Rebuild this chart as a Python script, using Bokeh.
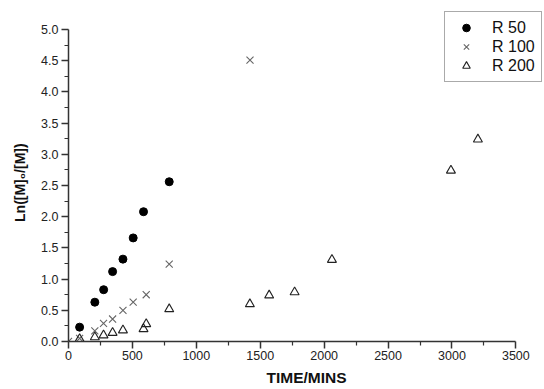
from bokeh.plotting import figure
from bokeh.models import Range1d, FixedTicker, PrintfTickFormatter, Legend, LegendItem
from bokeh.embed import file_html
from bokeh.resources import INLINE

# data
r50_time = [87, 206, 275, 345, 426, 506, 587, 788]
r50_ln = [0.23, 0.63, 0.83, 1.12, 1.32, 1.66, 2.08, 2.56]

r100_time = [0, 87, 206, 274, 345, 426, 506, 608, 788, 1420]
r100_ln = [0.0, 0.05, 0.17, 0.29, 0.36, 0.50, 0.63, 0.75, 1.24, 4.51]

r200_time = [87, 206, 274, 345, 426, 587, 608, 788, 1419, 1570, 1769, 2061, 2992, 3203]
r200_ln = [0.04, 0.07, 0.10, 0.14, 0.18, 0.20, 0.28, 0.52, 0.60, 0.74, 0.79, 1.31, 2.74, 3.24]

x_ticks = [0, 500, 1000, 1500, 2000, 2500, 3000, 3500]
x_minor = [250, 750, 1250, 1750, 2250, 2750, 3250]
y_ticks = [0.0, 0.5, 1.0, 1.5, 2.0, 2.5, 3.0, 3.5, 4.0, 4.5, 5.0]
y_minor = [0.25, 0.75, 1.25, 1.75, 2.25, 2.75, 3.25, 3.75, 4.25, 4.75]

series_names = ["R 50", "R 100", "R 200"]

FONT = "Liberation Sans"

# frame extends to the top/right canvas edge so the legend can sit above/right of the axes;
# the axis lines are limited to the data extent with bounds
p = figure(width=544, height=389, output_backend="svg", toolbar_location=None,
           x_range=Range1d(0, 3724), y_range=Range1d(0, 5.465),
           min_border_left=68, min_border_right=0, min_border_top=0, min_border_bottom=48)
p.outline_line_color = None
p.grid.visible = False
p.background_fill_color = "white"
p.border_fill_color = "white"

for ax in (p.xaxis[0], p.yaxis[0]):
    ax.axis_line_color = "#333333"
    ax.axis_line_width = 1.5
    ax.major_tick_line_color = "#333333"
    ax.minor_tick_line_color = "#333333"
    ax.major_tick_line_width = 1.5
    ax.minor_tick_line_width = 1.2
    ax.major_tick_in = 0
    ax.major_tick_out = 7
    ax.minor_tick_in = 0
    ax.minor_tick_out = 4
    ax.major_label_text_font = FONT
    ax.major_label_text_font_size = "12.5px"
    ax.major_label_text_color = "#222222"
    ax.axis_label_text_font = FONT
    ax.axis_label_text_font_style = "bold"
    ax.axis_label_text_color = "#111111"

p.xaxis[0].bounds = (0, 3500)
p.yaxis[0].bounds = (0, 5)
p.xaxis[0].ticker = FixedTicker(ticks=x_ticks, minor_ticks=x_minor)
p.yaxis[0].ticker = FixedTicker(ticks=y_ticks, minor_ticks=y_minor)
p.yaxis[0].formatter = PrintfTickFormatter(format="%.1f")
p.xaxis[0].major_label_standoff = 2
p.yaxis[0].major_label_standoff = 3

# trailing no-break spaces shift the centred label down to where the reference has it
p.yaxis[0].axis_label = "Ln([M]\u2080/[M])" + "\u00a0" * 6
p.yaxis[0].axis_label_text_font_size = "14px"
p.yaxis[0].axis_label_standoff = 10

p.xaxis[0].axis_label = "TIME/MINS"
p.xaxis[0].axis_label_text_font_size = "15.5px"
p.xaxis[0].axis_label_standoff = 6

g1 = p.scatter(r50_time, r50_ln, marker="circle", size=8, fill_color="black", line_color="black")
g2 = p.scatter(r100_time, r100_ln, marker="x", size=10, line_color="#666666", line_width=1.1)
g3 = p.scatter(r200_time, r200_ln, marker="triangle", size=9, fill_color=None,
               line_color="#222222", line_width=1.1)

legend = Legend(items=[LegendItem(label=series_names[0], renderers=[g1]),
                       LegendItem(label=series_names[1], renderers=[g2]),
                       LegendItem(label=series_names[2], renderers=[g3])],
                location=(376, 259), orientation="vertical",
                padding=6, spacing=0, margin=0,
                glyph_width=30, glyph_height=19, label_height=19, label_standoff=11,
                label_text_font=FONT, label_text_font_size="16px", label_text_color="#111111",
                border_line_color="#555555", border_line_width=1,
                background_fill_color="white", background_fill_alpha=1.0)
p.add_layout(legend, "center")

open("out.html", "w").write(file_html(p, INLINE))
